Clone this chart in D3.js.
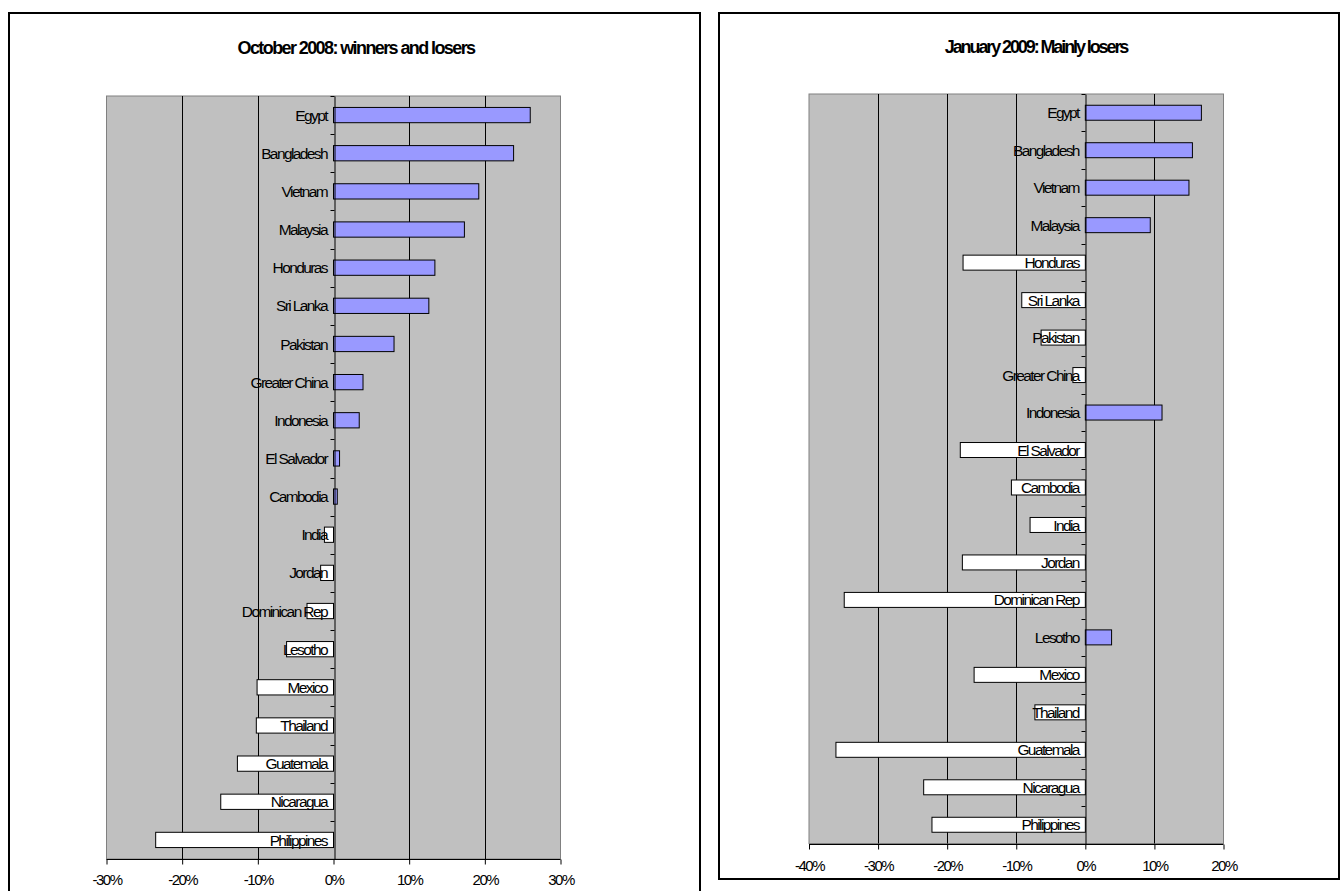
<!DOCTYPE html>
<html>
<head>
<meta charset="utf-8">
<script src="https://cdn.jsdelivr.net/npm/d3@7"></script>
<style>
  html, body { margin: 0; padding: 0; background: #ffffff; }
  svg { display: block; }
  text { font-family: "Liberation Sans", Arial, sans-serif; fill: #000; }
</style>
</head>
<body>
<svg id="chart" width="1341" height="891"></svg>
<script>
// ---------- DATA ----------
const categories = ["Egypt", "Bangladesh", "Vietnam", "Malaysia", "Honduras", "Sri Lanka",
  "Pakistan", "Greater China", "Indonesia", "El Salvador", "Cambodia", "India", "Jordan",
  "Dominican Rep", "Lesotho", "Mexico", "Thailand", "Guatemala", "Nicaragua", "Philippines"];

const oct2008Values = [26.0, 23.8, 19.2, 17.3, 13.4, 12.6, 8.0, 3.9, 3.4, 0.8,
  0.5, -1.2, -1.7, -3.5, -6.2, -10.1, -10.2, -12.7, -14.9, -23.5];

const jan2009Values = [16.8, 15.5, 15.0, 9.4, -17.7, -9.2, -6.4, -1.8, 11.1, -18.1,
  -10.7, -8.0, -17.8, -34.9, 3.8, -16.1, -7.3, -36.1, -23.4, -22.2];

const oct2008Ticks = [-30, -20, -10, 0, 10, 20, 30];
const oct2008TickLabels = ["-30%", "-20%", "-10%", "0%", "10%", "20%", "30%"];
const jan2009Ticks = [-40, -30, -20, -10, 0, 10, 20];
const jan2009TickLabels = ["-40%", "-30%", "-20%", "-10%", "0%", "10%", "20%"];

const oct2008Title = "October 2008: winners and losers";
const jan2009Title = "January 2009: Mainly losers";

// ---------- LAYOUT ----------
const svg = d3.select("#chart");

const panels = [
  {
    title: oct2008Title, values: oct2008Values, ticks: oct2008Ticks, tickLabels: oct2008TickLabels,
    box: { x: 9, y: 13, w: 691, h: 900 },
    plot: { x0: 106.5, x1: 560.5, y0: 96, y1: 859 },
    titleX: 356, titleY: 54, titleSpacing: -1.6, tickLabelY: 885
  },
  {
    title: jan2009Title, values: jan2009Values, ticks: jan2009Ticks, tickLabels: jan2009TickLabels,
    box: { x: 719, y: 13, w: 620, h: 866 },
    plot: { x0: 809, x1: 1223.5, y0: 94, y1: 843.5 },
    titleX: 1036, titleY: 53, titleSpacing: -2.1, tickLabelY: 871
  }
];

const POS_FILL = "#9999ff";
const NEG_FILL = "#ffffff";

panels.forEach(p => {
  const g = svg.append("g");

  // outer chart border
  g.append("rect")
    .attr("x", p.box.x).attr("y", p.box.y)
    .attr("width", p.box.w).attr("height", p.box.h)
    .attr("fill", "#fff").attr("stroke", "#000").attr("stroke-width", 2);

  // title
  g.append("text")
    .attr("x", p.titleX).attr("y", p.titleY)
    .attr("text-anchor", "middle")
    .style("font-size", "18px").style("font-weight", "bold")
    .style("letter-spacing", p.titleSpacing + "px")
    .text(p.title);

  const x = d3.scaleLinear()
    .domain([p.ticks[0], p.ticks[p.ticks.length - 1]])
    .range([p.plot.x0, p.plot.x1]);

  const y = d3.scaleBand()
    .domain(categories)
    .range([p.plot.y0, p.plot.y1])
    .paddingInner(0.6)
    .paddingOuter(0.3);

  // plot background
  g.append("rect")
    .attr("x", p.plot.x0).attr("y", p.plot.y0)
    .attr("width", p.plot.x1 - p.plot.x0).attr("height", p.plot.y1 - p.plot.y0)
    .attr("fill", "#c0c0c0").attr("stroke", "#808080").attr("stroke-width", 1);

  // vertical gridlines (interior ticks)
  g.selectAll(".grid").data(p.ticks.filter((t, i) => i > 0 && i < p.ticks.length - 1 && t !== 0))
    .enter().append("line")
    .attr("x1", d => Math.round(x(d)) + 0.5).attr("x2", d => Math.round(x(d)) + 0.5)
    .attr("y1", p.plot.y0).attr("y2", p.plot.y1)
    .attr("stroke", "#000").attr("stroke-width", 1);

  // bottom value axis
  const xAxis = d3.axisBottom(x)
    .tickValues(p.ticks)
    .tickSize(5)
    .tickFormat((d, i) => p.tickLabels[i]);
  const ax = g.append("g")
    .attr("transform", `translate(0,${Math.round(p.plot.y1) + 0.5})`)
    .call(xAxis);
  ax.select(".domain").attr("stroke", "#000").attr("d", `M${p.plot.x0},0H${p.plot.x1}`);
  ax.selectAll(".tick line").attr("stroke", "#000");
  ax.selectAll(".tick text")
    .attr("y", p.tickLabelY - Math.round(p.plot.y1) - 0.5)
    .attr("dy", 0)
    .style("font-size", "15px")
    .style("letter-spacing", "-1.5px")
    .style("font-family", "'Liberation Sans', Arial, sans-serif")
    .attr("fill", "#000");

  // bars
  g.selectAll(".bar").data(p.values)
    .enter().append("rect")
    .attr("x", d => x(Math.min(0, d)))
    .attr("y", (d, i) => y(categories[i]))
    .attr("width", d => Math.abs(x(d) - x(0)))
    .attr("height", y.bandwidth())
    .attr("fill", d => d >= 0 ? POS_FILL : NEG_FILL)
    .attr("stroke", "#000").attr("stroke-width", 1);

  // category axis at zero
  const zx = Math.round(x(0)) + 0.5;
  const yAxis = d3.axisLeft(y).tickSize(0).tickFormat("");
  const ay = g.append("g").attr("transform", `translate(${zx},0)`).call(yAxis);
  ay.select(".domain").attr("stroke", "#000");
  // tick marks between categories
  const bounds = d3.range(categories.length + 1).map(i => p.plot.y0 + i * y.step());
  g.selectAll(".ctick").data(bounds).enter().append("line")
    .attr("x1", zx - 4).attr("x2", zx)
    .attr("y1", d => Math.round(d) + 0.5).attr("y2", d => Math.round(d) + 0.5)
    .attr("stroke", "#000").attr("stroke-width", 1);

  // category labels next to the axis
  g.selectAll(".clabel").data(categories).enter().append("text")
    .attr("x", x(0) - 6.5)
    .attr("y", d => y(d) + y.bandwidth() / 2)
    .attr("dy", "0.36em")
    .attr("text-anchor", "end")
    .style("font-size", "15.5px")
    .style("letter-spacing", "-1.6px")
    .text(d => d);
});
</script>
</body>
</html>
